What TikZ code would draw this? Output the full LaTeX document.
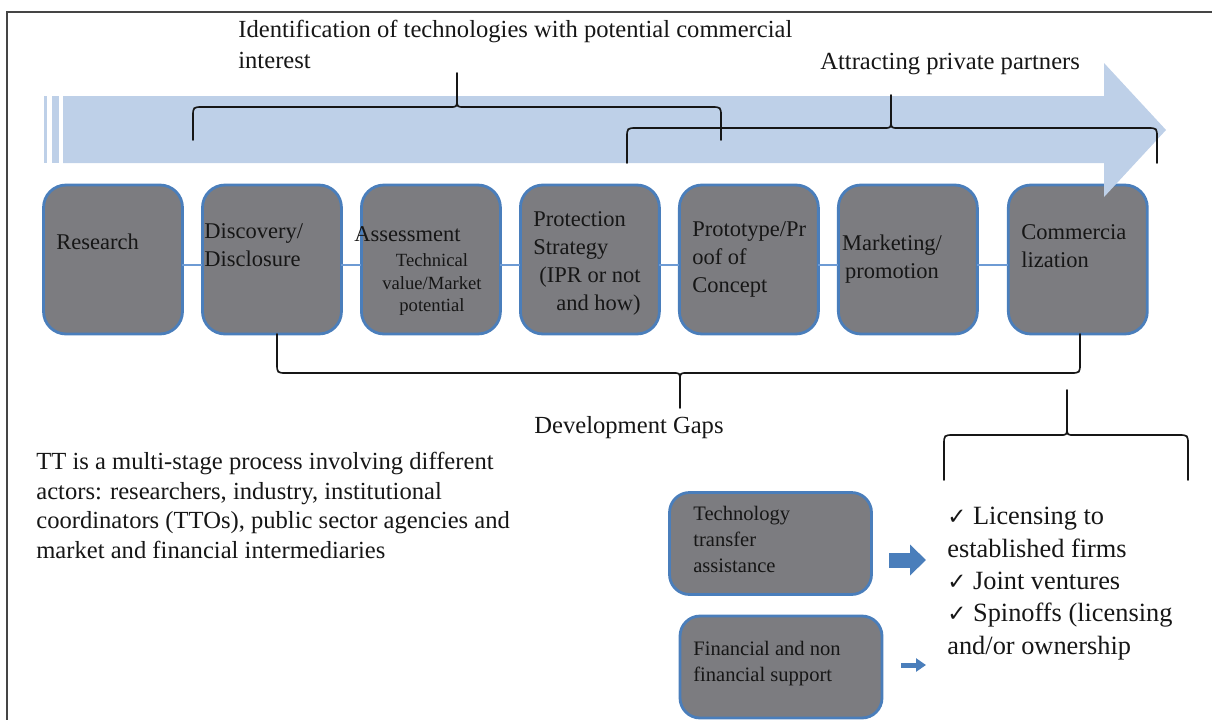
\documentclass[tikz,border=0pt]{standalone}
\usepackage{fontspec}
\setmainfont{Liberation Serif}
\newfontfamily\symfont{DejaVu Sans}
\usetikzlibrary{arrows.meta, positioning}

\definecolor{stagefill}{RGB}{124,124,128}
\definecolor{stageedge}{RGB}{74,126,187}
\definecolor{flowblue}{RGB}{190,208,232}
\definecolor{linkblue}{RGB}{110,155,212}
\definecolor{inkgrey}{RGB}{22,22,22}

% curly bracket: left x, right x, tip x, end y, bar y, tip y
\newcommand{\gapbrace}[6]{%
  \pgfmathsetmacro{\bd}{(#4 > #5) ? 1 : -1}
  \draw[bracket] (#1,#4) -- (#1,{#5+\bd*10}) .. controls (#1,#5) .. ({#1+10},#5)
    -- ({#3-7},#5) .. controls (#3,#5) .. (#3,{#5-\bd*8}) -- (#3,#6);
  \draw[bracket] (#2,#4) -- (#2,{#5+\bd*10}) .. controls (#2,#5) .. ({#2-10},#5)
    -- ({#3+7},#5) .. controls (#3,#5) .. (#3,{#5-\bd*8});
}

\begin{document}
\begin{tikzpicture}[x=0.02cm, y=-0.02cm,
    stage/.style={draw=stageedge, line width=1.6pt, fill=stagefill,
      rounded corners=0.45cm, minimum width=2.78cm, minimum height=2.98cm,
      inner sep=0pt, outer sep=0pt},
    support/.style={stage, rounded corners=0.4cm, minimum width=4.04cm, minimum height=2.04cm},
    stagelink/.style={draw=linkblue, line width=1.7pt},
    bracket/.style={draw=inkgrey, line width=0.95pt, line cap=round, line join=round},
    stagetext/.style={inner sep=0pt, align=left, text=inkgrey, font=\fontsize{12.8}{15.9}\selectfont},
    smalltext/.style={inner sep=0pt, align=center, text=inkgrey, font=\fontsize{10.6}{13}\selectfont},
    supporttext/.style={inner sep=0pt, align=left, text=inkgrey, font=\fontsize{11.7}{14.7}\selectfont},
    bigtext/.style={inner sep=0pt, align=left, text=inkgrey, font=\fontsize{14}{17.4}\selectfont},
    listtext/.style={inner sep=0pt, align=left, text=inkgrey, font=\fontsize{15}{18.4}\selectfont}]
    \useasboundingbox (0,0) rectangle (1212,720);

    % frame
    \draw[inkgrey!80, line width=0.6pt] (1212,12) -- (7,12) -- (7,720);

    % stages
    \coordinate (linklevel) at (0,265);
    \node[stage] (research) at (113,259.5) {};
    \node[stage, right=0.4cm of research] (discovery) {};
    \node[stage, right=0.4cm of discovery] (assessment) {};
    \node[stage, right=0.4cm of assessment] (protection) {};
    \node[stage, right=0.4cm of protection] (prototype) {};
    \node[stage, right=0.4cm of prototype] (marketing) {};
    \node[stage, right=0.62cm of marketing] (commercial) {};
    \foreach \a/\b in {research/discovery, discovery/assessment, assessment/protection,
        protection/prototype, prototype/marketing, marketing/commercial}
        \draw[stagelink] (\a.east |- linklevel) -- (\b.west |- linklevel);

    % big process arrow
    \fill[flowblue] (44,96) rectangle (47,163);
    \fill[flowblue] (52,96) rectangle (59,163);
    \fill[flowblue] (63,96) -- (1104,96) -- (1104,63) -- (1166,130)
        -- (1104,197) -- (1104,163) -- (63,163) -- cycle;

    % brackets
    \gapbrace{193}{721}{457}{140}{107}{73}
    \gapbrace{627}{1157}{891}{163}{128}{95}
    \gapbrace{277}{1080}{680}{334}{373}{408}
    \gapbrace{944}{1188}{1067}{480}{435}{390}

    \node[bigtext, anchor=north west] (identify) at (238,20)
        {Identification of technologies with potential commercial\\interest};
    \node[bigtext, anchor=north west] (attract) at (820,53) {Attracting private partners};
    \node[bigtext, anchor=north west] (gaps) at (534,416) {Development Gaps};

    % stage labels
    \node[stagetext, anchor=north west] (research-t) at (56,234) {Research};
    \node[stagetext, anchor=north west] (discovery-t) at (204,223) {Discovery/\\Disclosure};
    \node[stagetext, anchor=north west] (assessment-t) at (354,226) {Assessment};
    \node[smalltext, anchor=north] (assessment-s) at (432,253)
        {Technical\\value/Market\\potential};
    \node[stagetext, anchor=north west] (protection-t) at (533,211) {Protection\\Strategy};
    \node[stagetext, anchor=north east, align=right] (protection-s) at (641,267)
        {(IPR or not\\and how)};
    \node[stagetext, anchor=north west] (prototype-t) at (692,221)
        {Prototype/Pr\\oof of\\Concept};
    \node[stagetext, anchor=north, align=center] (marketing-t) at (892,235) {Marketing/\\promotion};
    \node[stagetext, anchor=north west] (commercial-t) at (1021,224) {Commercia\\lization};

    % actors
    \node[bigtext, anchor=north west, font=\fontsize{14}{16.8}\selectfont] (actors) at (36,452)
        {TT is a multi-stage process involving different\\
         actors: researchers, industry, institutional\\
         coordinators (TTOs), public sector agencies and\\
         market and financial intermediaries};

    % support and outcomes
    \node[support] (transfer) at (770.5,543.5) {};
    \node[support] (finance) at (781,667) {};
    \node[supporttext, anchor=north west] (transfer-t) at (693,506)
        {Technology\\transfer\\assistance};
    \node[supporttext, anchor=north west] (finance-t) at (693,641)
        {Financial and non\\financial support};
    \node[listtext, anchor=north west] (outcomes) at (947,507)
        {{\symfont\fontsize{13}{13}\selectfont ✓} Licensing to\\
         established firms\\
         {\symfont\fontsize{13}{13}\selectfont ✓} Joint ventures\\
         {\symfont\fontsize{13}{13}\selectfont ✓} Spinoffs (licensing\\
         and/or ownership};

    \coordinate (transfer-from) at (889,560);
    \coordinate (transfer-to) at (926,560);
    \coordinate (finance-from) at (901,665);
    \coordinate (finance-to) at (926,665);
    \draw[stageedge, line width=0.3cm, -{Triangle[length=0.32cm,width=0.6cm]}]
        (transfer-from) -- (transfer-to);
    \draw[stageedge, line width=0.1cm, -{Triangle[length=0.2cm,width=0.26cm]}]
        (finance-from) -- (finance-to);
\end{tikzpicture}
\end{document}
